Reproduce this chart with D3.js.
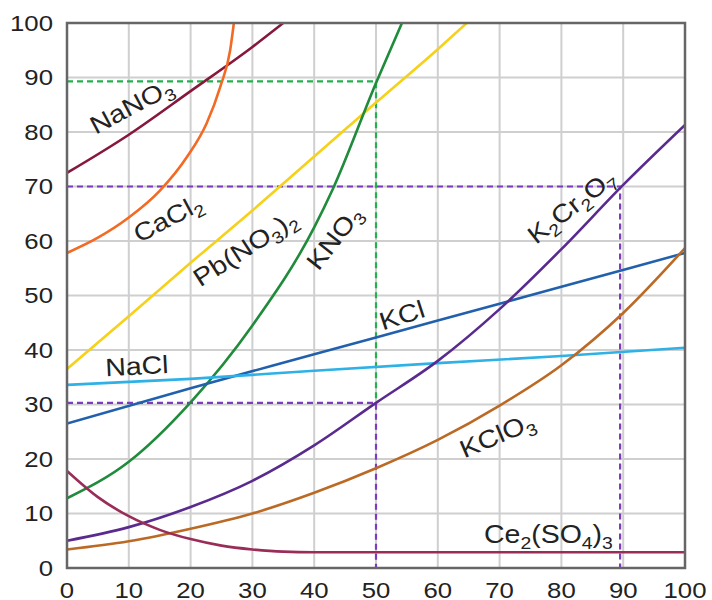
<!DOCTYPE html>
<html>
<head>
<meta charset="UTF-8">
<title>Solubility curves</title>
<style>
body { margin: 0; background: #fff; }
text { font-family: "Liberation Sans", Arial, sans-serif; fill: #222; }
</style>
</head>
<body>
<script src="https://cdn.jsdelivr.net/npm/d3@7"></script>
<script>
// solubility (g / 100 g water) against temperature (°C)
var nano3   = [[0,72.5],[10,79.5],[20,87.5],[30,95.6],[35,100]];
var cacl2   = [[0,57.8],[5,60.6],[10,64.3],[15,69.2],[19.4,75.4],[22.6,81.6],[24.8,88.3],[26.4,95],[27,100]];
var pbno32  = [[0,36.5],[10,46.2],[20,56],[30,65.6],[40,75.5],[50,85.4],[60,95.2],[64.7,100]];
var kno3    = [[0,12.8],[10,19.5],[20,30.4],[30,44.5],[40,62.5],[43,69.5],[50,89],[54.2,100]];
var kcl     = [[0,26.5],[20,33],[40,39.2],[60,45.4],[80,51.6],[100,57.8]];
var nacl    = [[0,33.6],[20,34.7],[40,36.2],[60,37.6],[80,38.9],[100,40.4]];
var k2cr2o7 = [[0,5],[10,7.5],[20,11.2],[30,16],[40,22.5],[50,30.3],[60,38],[70,47.5],[80,58.5],[90,70.3],[100,81.3]];
var kclo3   = [[0,3.4],[10,4.9],[20,7.2],[30,10],[40,13.8],[50,18.3],[60,23.5],[70,29.8],[80,37.2],[90,46.8],[100,58.7]];
var ce2so43 = [[0,17.8],[5,13],[10,9.5],[15,7],[20,5.3],[25,4.1],[30,3.4],[35,3],[40,2.9],[100,2.9]];

var xTicks = [0,10,20,30,40,50,60,70,80,90,100];
var yTicks = [0,10,20,30,40,50,60,70,80,90,100];

// dashed read-off lines
var guides = [
  {pts: [[0,89.3],[50,89.3],[50,30.3]], color: "#22b24c"},
  {pts: [[0,30.3],[50,30.3],[50,0]], color: "#7b3cc0"},
  {pts: [[0,70],[89.5,70],[89.5,0]], color: "#7b3cc0"}
];

var series = [
  {data: nano3,   color: "#86183c"},
  {data: cacl2,   color: "#f26a24"},
  {data: pbno32,  color: "#f6d11a"},
  {data: kno3,    color: "#1f8b3b"},
  {data: kcl,     color: "#2160ad"},
  {data: nacl,    color: "#2eb1e6"},
  {data: k2cr2o7, color: "#5a2b8e"},
  {data: kclo3,   color: "#bb6a26"},
  {data: ce2so43, color: "#9a2c58"}
];

// label text pieces: [text, subscript?]
var labels = [
  {parts: [["NaNO",0],["3",1]],               at: [10.4,84.8], angle: -28},
  {parts: [["CaCl",0],["2",1]],               at: [16.3,64.2], angle: -28},
  {parts: [["Pb(NO",0],["3",1],[")",0],["2",1]], at: [28.8,58.7], angle: -33},
  {parts: [["KNO",0],["3",1]],                at: [43.2,60.6], angle: -52},
  {parts: [["KCl",0]],                        at: [54.2,46.4], angle: -18},
  {parts: [["NaCl",0]],                       at: [11.3,37.1], angle: -3},
  {parts: [["K",0],["2",1],["Cr",0],["2",1],["O",0],["7",1]], at: [81.6,66.4], angle: -38},
  {parts: [["KClO",0],["3",1]],               at: [69.6,24.4], angle: -23},
  {parts: [["Ce",0],["2",1],["(SO",0],["4",1],[")",0],["3",1]], at: [77.9,6.2], angle: 0}
];

var width = 712, height = 600;
var plotL = 67, plotR = 685, plotT = 23, plotB = 568;

var x = d3.scaleLinear().domain([0,100]).range([plotL,plotR]);
var y = d3.scaleLinear().domain([0,100]).range([plotB,plotT]);

var svg = d3.select("body").append("svg")
  .attr("width", width)
  .attr("height", height);

svg.append("defs").append("clipPath").attr("id","plot")
  .append("rect")
  .attr("x", plotL).attr("y", plotT)
  .attr("width", plotR-plotL).attr("height", plotB-plotT);

// grid
svg.append("g").selectAll("line").data(xTicks.slice(1,-1)).enter().append("line")
  .attr("x1", function(d){ return x(d); }).attr("x2", function(d){ return x(d); })
  .attr("y1", plotT).attr("y2", plotB)
  .attr("stroke", "#cfcfcf").attr("stroke-width", 2);
svg.append("g").selectAll("line").data(yTicks.slice(1,-1)).enter().append("line")
  .attr("y1", function(d){ return y(d); }).attr("y2", function(d){ return y(d); })
  .attr("x1", plotL).attr("x2", plotR)
  .attr("stroke", "#cfcfcf").attr("stroke-width", 2);

// tick labels, slightly stretched like the picture
svg.append("g").selectAll("text").data(yTicks).enter().append("text")
  .attr("transform", function(d){ return "translate(53," + y(d) + ") scale(1.17,1)"; })
  .attr("text-anchor", "end")
  .attr("dy", "0.36em")
  .style("font-size", "22px")
  .text(function(d){ return d; });
svg.append("g").selectAll("text").data(xTicks).enter().append("text")
  .attr("transform", function(d){ return "translate(" + x(d) + ",598) scale(1.17,1)"; })
  .attr("text-anchor", "middle")
  .style("font-size", "22px")
  .text(function(d){ return d; });

var line = d3.line()
  .x(function(d){ return x(d[0]); })
  .y(function(d){ return y(d[1]); });

// guides
svg.append("g").attr("clip-path","url(#plot)").selectAll("path").data(guides).enter().append("path")
  .attr("d", function(d){ return line(d.pts); })
  .attr("fill", "none")
  .attr("stroke", function(d){ return d.color; })
  .attr("stroke-width", 2.2)
  .attr("stroke-dasharray", "6,4");

// curves
var curve = d3.line()
  .curve(d3.curveMonotoneX)
  .x(function(d){ return x(d[0]); })
  .y(function(d){ return y(d[1]); });
svg.append("g").attr("clip-path","url(#plot)").selectAll("path").data(series).enter().append("path")
  .attr("d", function(d){ return curve(d.data); })
  .attr("fill", "none")
  .attr("stroke", function(d){ return d.color; })
  .attr("stroke-width", 2.6);

// frame
svg.append("rect")
  .attr("x", plotL).attr("y", plotT)
  .attr("width", plotR-plotL).attr("height", plotB-plotT)
  .attr("fill", "none")
  .attr("stroke", "#666").attr("stroke-width", 2.5);

// curve labels
var lab = svg.append("g").selectAll("text").data(labels).enter().append("text")
  .attr("transform", function(d){
    return "translate(" + x(d.at[0]) + "," + y(d.at[1]) + ") rotate(" + d.angle + ") scale(1.14,1)";
  })
  .attr("text-anchor", "middle")
  .attr("dy", "0.35em")
  .style("font-size", "25px");
lab.each(function(d){
  var t = d3.select(this);
  var shifted = false;
  d.parts.forEach(function(p){
    var s = t.append("tspan").text(p[0]);
    if (p[1]) {
      s.style("font-size", "17px").attr("dy", shifted ? 0 : 6);
      shifted = true;
    } else if (shifted) {
      s.attr("dy", -6);
      shifted = false;
    }
  });
});
</script>
</body>
</html>
